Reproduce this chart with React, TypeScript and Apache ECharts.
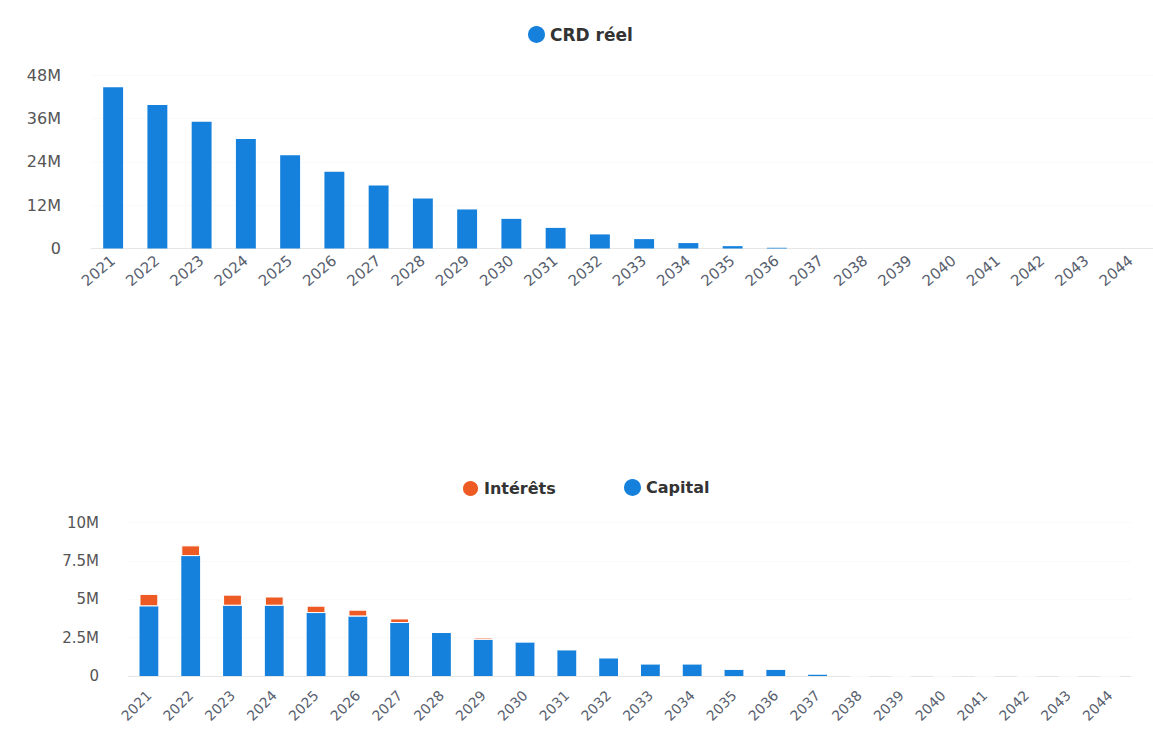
import React, { useEffect, useRef } from "react";
import * as echarts from "echarts";

const years = [
  "2021", "2022", "2023", "2024", "2025", "2026", "2027", "2028", "2029", "2030", "2031", "2032",
  "2033", "2034", "2035", "2036", "2037", "2038", "2039", "2040", "2041", "2042", "2043", "2044",
];

// Capital restant dû (millions)
const crdReel = [44.6, 39.7, 35.1, 30.3, 25.8, 21.2, 17.4, 13.8, 10.8, 8.2, 5.7, 3.9, 2.6, 1.5, 0.65, 0.2, 0, 0, 0, 0, 0, 0, 0, 0];

// Annuités (millions)
const capital = [4.54, 7.81, 4.58, 4.58, 4.1, 3.88, 3.45, 2.8, 2.36, 2.2, 1.7, 1.18, 0.79, 0.79, 0.44, 0.44, 0.13, 0, 0, 0, 0, 0, 0, 0];
const interets = [0.81, 0.7, 0.72, 0.6, 0.48, 0.44, 0.3, 0.1, 0.15, 0.05, 0.02, 0.01, 0, 0, 0, 0, 0, 0, 0, 0, 0, 0, 0, 0];

const topTicks = { min: 0, max: 48, interval: 12 };
const bottomTicks = { min: 0, max: 10, interval: 2.5 };

const BLUE = "#1581dc";
const ORANGE = "#ee5a24";
const FONT = "DejaVu Sans";

const fmt = (v: number) => (v === 0 ? "0" : v + "M");

export default function App() {
  const ref = useRef<HTMLDivElement>(null);
  useEffect(() => {
    if (!ref.current) return;
    const chart = echarts.init(ref.current, undefined, { renderer: "svg" });
    const xAxisCommon = {
      type: "category" as const,
      data: years,
      boundaryGap: true,
      axisTick: { show: false },
      axisLine: { show: true, lineStyle: { color: "#e6e6e6", width: 1 } },
    };
    const yAxisCommon = {
      type: "value" as const,
      axisLine: { show: false },
      axisTick: { show: false },
      splitLine: { show: true, lineStyle: { color: "#fafafa" } },
    };
    chart.setOption({
      animation: false,
      backgroundColor: "#ffffff",
      textStyle: { fontFamily: FONT },
      legend: [
        {
          left: 523,
          top: 21,
          icon: "circle",
          itemWidth: 17,
          itemHeight: 17,
          data: ["CRD réel"],
          textStyle: { fontFamily: FONT, fontWeight: "bold", fontSize: 17, color: "#333333" },
        },
        {
          left: 456,
          top: 474,
          icon: "circle",
          itemWidth: 17,
          itemHeight: 17,
          data: ["Intérêts"],
          textStyle: { fontFamily: FONT, fontWeight: "bold", fontSize: 16, color: "#333333" },
        },
        {
          left: 619,
          top: 474,
          icon: "circle",
          itemWidth: 17,
          itemHeight: 17,
          data: ["Capital"],
          textStyle: { fontFamily: FONT, fontWeight: "bold", fontSize: 16, color: "#333333" },
        },
      ],
      grid: [
        { left: 91, right: -10, top: 75, height: 173.5 },
        { left: 128, right: 22, top: 522.5, height: 153.5 },
      ],
      xAxis: [
        {
          ...xAxisCommon,
          gridIndex: 0,
          axisLabel: { rotate: 40, margin: 10, fontSize: 15, color: "#58606e", fontFamily: FONT, interval: 0 },
        },
        {
          ...xAxisCommon,
          gridIndex: 1,
          axisLabel: { rotate: 45, margin: 17, fontSize: 14, color: "#58606e", fontFamily: FONT, interval: 0 },
        },
      ],
      yAxis: [
        {
          ...yAxisCommon,
          gridIndex: 0,
          ...topTicks,
          axisLabel: { formatter: fmt, margin: 30, fontSize: 16, color: "#555555", fontFamily: FONT },
        },
        {
          ...yAxisCommon,
          gridIndex: 1,
          ...bottomTicks,
          axisLabel: { formatter: fmt, margin: 29, fontSize: 15, color: "#555555", fontFamily: FONT },
        },
      ],
      series: [
        {
          name: "CRD réel",
          type: "bar",
          xAxisIndex: 0,
          yAxisIndex: 0,
          data: crdReel,
          barWidth: "45%",
          itemStyle: { color: BLUE },
        },
        {
          name: "Capital",
          type: "bar",
          xAxisIndex: 1,
          yAxisIndex: 1,
          stack: "annuite",
          data: capital,
          barWidth: "45%",
          itemStyle: { color: BLUE },
        },
        {
          name: "Intérêts",
          type: "bar",
          xAxisIndex: 1,
          yAxisIndex: 1,
          stack: "annuite",
          data: interets,
          barWidth: "45%",
          itemStyle: { color: ORANGE, borderColor: "#ffffff", borderWidth: 1 },
        },
      ],
    });
    return () => chart.dispose();
  }, []);
  return (
    <div
      ref={ref}
      style={{ position: "absolute", left: 0, top: 0, width: 1153, height: 734 }}
    />
  );
}
